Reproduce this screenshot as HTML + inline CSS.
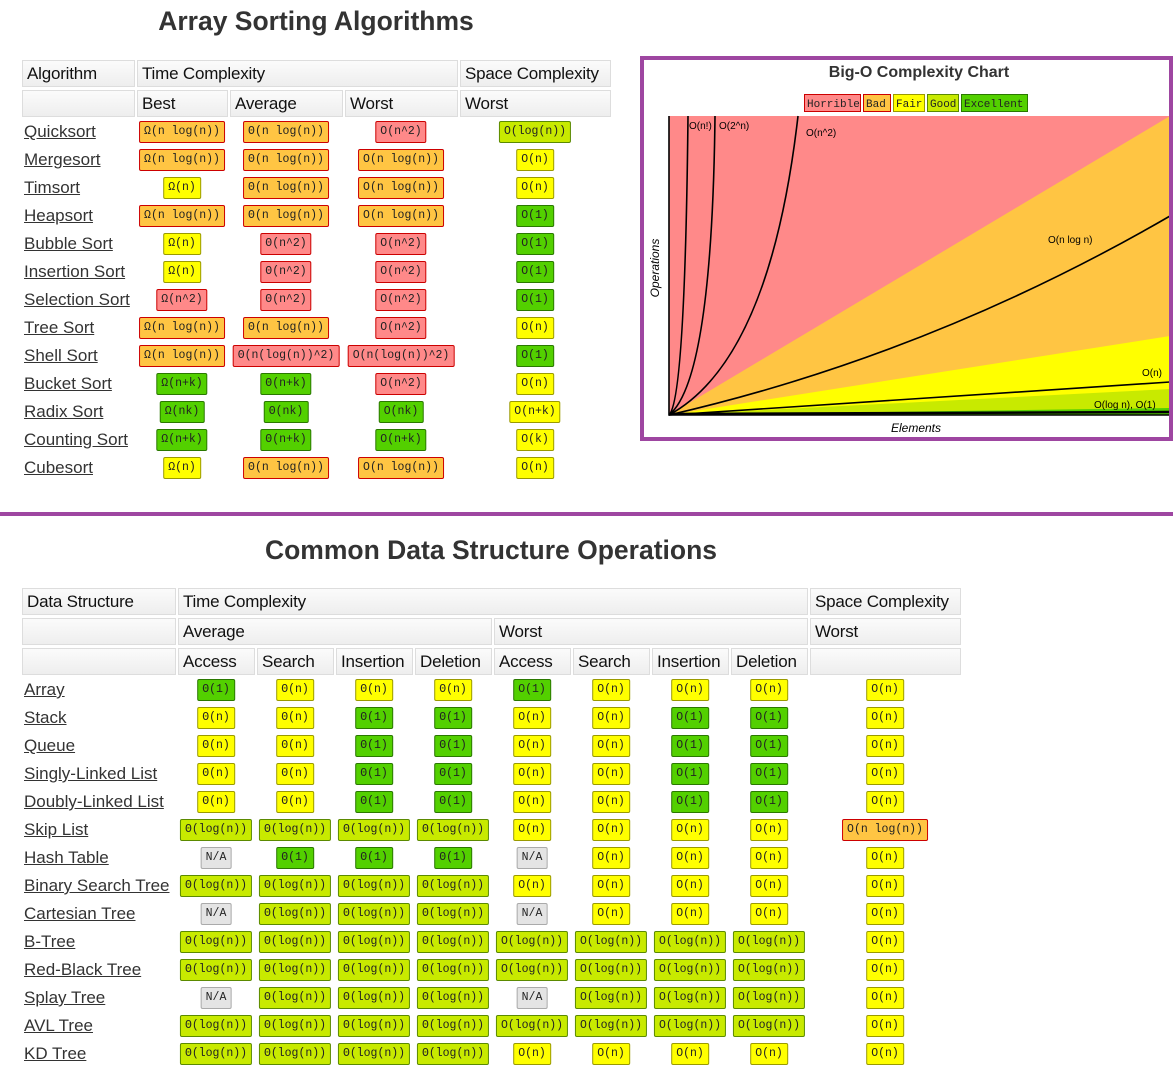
<!DOCTYPE html>
<html><head><meta charset="utf-8"><style>
body{margin:0;width:1173px;height:1084px;position:relative;background:#fff;font-family:"Liberation Sans",Arial,sans-serif;overflow:hidden}
.h{position:absolute;box-sizing:border-box;height:27px;border:1px solid #ddd;background:linear-gradient(#fbfbfb,#eee);font-size:17px;color:#111;padding:2px 4px;line-height:22px;white-space:nowrap;overflow:hidden;letter-spacing:-0.2px}
a{position:absolute;font-size:17px;color:#333;text-decoration:underline;transform:translateY(-50%);line-height:20px;white-space:nowrap}
b{position:absolute;font-weight:normal;font-family:"Liberation Mono",monospace;font-size:11.5px;height:22px;line-height:20px;box-sizing:border-box;padding:0 4px;border:1px solid;border-radius:2px;transform:translate(-50%,-50%);white-space:nowrap;color:#222}
.r{background:#ff8989;border-color:#c00}
.o{background:#ffc543;border-color:#c00}
.y{background:#ff0;border-color:#9a9a00}
.l{background:#c8ea00;border-color:#5b8a00}
.g{background:#53d000;border-color:#2a7800}
.n{background:#e4e4e4;border-color:#aaa}
.t{position:absolute;font-weight:bold;font-size:26.5px;color:#333;transform:translateX(-50%);white-space:nowrap}
</style></head><body>
<div class="t" style="left:316px;top:6px">Array Sorting Algorithms</div>
<div class="h" style="left:22px;top:60px;width:113px">Algorithm</div>
<div class="h" style="left:137px;top:60px;width:321px">Time Complexity</div>
<div class="h" style="left:460px;top:60px;width:151px">Space Complexity</div>
<div class="h" style="left:22px;top:90px;width:113px"></div>
<div class="h" style="left:137px;top:90px;width:91px">Best</div>
<div class="h" style="left:230px;top:90px;width:113px">Average</div>
<div class="h" style="left:345px;top:90px;width:113px">Worst</div>
<div class="h" style="left:460px;top:90px;width:151px">Worst</div>

<a style="left:24px;top:132px">Quicksort</a><b class="o" style="left:182px;top:132px">Ω(n log(n))</b><b class="o" style="left:286px;top:132px">Θ(n log(n))</b><b class="r" style="left:401px;top:132px">O(n^2)</b><b class="l" style="left:535px;top:132px">O(log(n))</b>
<a style="left:24px;top:160px">Mergesort</a><b class="o" style="left:182px;top:160px">Ω(n log(n))</b><b class="o" style="left:286px;top:160px">Θ(n log(n))</b><b class="o" style="left:401px;top:160px">O(n log(n))</b><b class="y" style="left:535px;top:160px">O(n)</b>
<a style="left:24px;top:188px">Timsort</a><b class="y" style="left:182px;top:188px">Ω(n)</b><b class="o" style="left:286px;top:188px">Θ(n log(n))</b><b class="o" style="left:401px;top:188px">O(n log(n))</b><b class="y" style="left:535px;top:188px">O(n)</b>
<a style="left:24px;top:216px">Heapsort</a><b class="o" style="left:182px;top:216px">Ω(n log(n))</b><b class="o" style="left:286px;top:216px">Θ(n log(n))</b><b class="o" style="left:401px;top:216px">O(n log(n))</b><b class="g" style="left:535px;top:216px">O(1)</b>
<a style="left:24px;top:244px">Bubble Sort</a><b class="y" style="left:182px;top:244px">Ω(n)</b><b class="r" style="left:286px;top:244px">Θ(n^2)</b><b class="r" style="left:401px;top:244px">O(n^2)</b><b class="g" style="left:535px;top:244px">O(1)</b>
<a style="left:24px;top:272px">Insertion Sort</a><b class="y" style="left:182px;top:272px">Ω(n)</b><b class="r" style="left:286px;top:272px">Θ(n^2)</b><b class="r" style="left:401px;top:272px">O(n^2)</b><b class="g" style="left:535px;top:272px">O(1)</b>
<a style="left:24px;top:300px">Selection Sort</a><b class="r" style="left:182px;top:300px">Ω(n^2)</b><b class="r" style="left:286px;top:300px">Θ(n^2)</b><b class="r" style="left:401px;top:300px">O(n^2)</b><b class="g" style="left:535px;top:300px">O(1)</b>
<a style="left:24px;top:328px">Tree Sort</a><b class="o" style="left:182px;top:328px">Ω(n log(n))</b><b class="o" style="left:286px;top:328px">Θ(n log(n))</b><b class="r" style="left:401px;top:328px">O(n^2)</b><b class="y" style="left:535px;top:328px">O(n)</b>
<a style="left:24px;top:356px">Shell Sort</a><b class="o" style="left:182px;top:356px">Ω(n log(n))</b><b class="r" style="left:286px;top:356px">Θ(n(log(n))^2)</b><b class="r" style="left:401px;top:356px">O(n(log(n))^2)</b><b class="g" style="left:535px;top:356px">O(1)</b>
<a style="left:24px;top:384px">Bucket Sort</a><b class="g" style="left:182px;top:384px">Ω(n+k)</b><b class="g" style="left:286px;top:384px">Θ(n+k)</b><b class="r" style="left:401px;top:384px">O(n^2)</b><b class="y" style="left:535px;top:384px">O(n)</b>
<a style="left:24px;top:412px">Radix Sort</a><b class="g" style="left:182px;top:412px">Ω(nk)</b><b class="g" style="left:286px;top:412px">Θ(nk)</b><b class="g" style="left:401px;top:412px">O(nk)</b><b class="y" style="left:535px;top:412px">O(n+k)</b>
<a style="left:24px;top:440px">Counting Sort</a><b class="g" style="left:182px;top:440px">Ω(n+k)</b><b class="g" style="left:286px;top:440px">Θ(n+k)</b><b class="g" style="left:401px;top:440px">O(n+k)</b><b class="y" style="left:535px;top:440px">O(k)</b>
<a style="left:24px;top:468px">Cubesort</a><b class="y" style="left:182px;top:468px">Ω(n)</b><b class="o" style="left:286px;top:468px">Θ(n log(n))</b><b class="o" style="left:401px;top:468px">O(n log(n))</b><b class="y" style="left:535px;top:468px">O(n)</b>

<!-- chart -->
<div style="position:absolute;left:640px;top:56px;width:533px;height:385px;box-sizing:border-box;border:4px solid #9e46a1;border-right:none;background:#fff"></div>
<svg style="position:absolute;left:0;top:0" width="1173" height="1084">
<text x="919" y="77" text-anchor="middle" font-family="Liberation Sans" font-weight="bold" font-size="16" fill="#333">Big-O Complexity Chart</text>
<g font-family="Liberation Mono" font-size="11" fill="#222">
<rect x="804.5" y="94.5" width="56" height="17" fill="#ff8989" stroke="#c00"/><text x="807" y="107">Horrible</text>
<rect x="863.5" y="94.5" width="27" height="17" fill="#ffc543" stroke="#c00"/><text x="866" y="107">Bad</text>
<rect x="893.5" y="94.5" width="31" height="17" fill="#ff0" stroke="#9a9a00"/><text x="896" y="107">Fair</text>
<rect x="927.5" y="94.5" width="31" height="17" fill="#c8ea00" stroke="#5b8a00"/><text x="930" y="107">Good</text>
<rect x="961.5" y="94.5" width="66" height="17" fill="#53d000" stroke="#2a7800"/><text x="964" y="107">Excellent</text>
</g>
<rect x="669" y="116" width="501" height="299" fill="#ff8989"/>
<polygon points="669,415 1170,116 1170,415" fill="#ffc543"/>
<polygon points="669,415 1170,336 1170,415" fill="#ff0"/>
<polygon points="669,415 1170,389 1170,415" fill="#c8ea00"/>
<polygon points="669,415 1170,408 1170,415" fill="#53d000"/>
<g fill="none" stroke="#000" stroke-width="1.6">
<path d="M669,116 L669,415 L1170,415"/>
<path d="M669,415 Q685,400 688,116"/>
<path d="M669,415 Q712,380 715,116"/>
<path d="M669,415 Q770,360 798,116"/>
<path d="M669,415 Q930,355 1170,216"/>
<path d="M669,415 L1170,382"/>
<path d="M669,414 L1170,412" stroke-width="2.5"/>
</g>
<g font-family="Liberation Sans" font-size="10" fill="#000">
<text x="689" y="129">O(n!)</text><text x="719" y="129">O(2^n)</text><text x="806" y="136">O(n^2)</text>
<text x="1048" y="243">O(n log n)</text><text x="1142" y="376">O(n)</text><text x="1094" y="408">O(log n), O(1)</text>
</g>
<text x="916" y="432" text-anchor="middle" font-family="Liberation Sans" font-style="italic" font-size="12">Elements</text>
<text transform="translate(659,268) rotate(-90)" text-anchor="middle" font-family="Liberation Sans" font-style="italic" font-size="12">Operations</text>
</svg>
<div style="position:absolute;left:1169px;top:56px;width:4px;height:385px;background:#9e46a1"></div>

<div style="position:absolute;left:0;top:512px;width:1173px;height:4px;background:#9e46a1"></div>
<div class="t" style="left:491px;top:535px">Common Data Structure Operations</div>
<div class="h" style="left:22px;top:588px;width:154px">Data Structure</div>
<div class="h" style="left:178px;top:588px;width:630px">Time Complexity</div>
<div class="h" style="left:810px;top:588px;width:151px">Space Complexity</div>
<div class="h" style="left:22px;top:618px;width:154px"></div>
<div class="h" style="left:178px;top:618px;width:314px">Average</div>
<div class="h" style="left:494px;top:618px;width:314px">Worst</div>
<div class="h" style="left:810px;top:618px;width:151px">Worst</div>
<div class="h" style="left:22px;top:648px;width:154px"></div>
<div class="h" style="left:178px;top:648px;width:77px">Access</div>
<div class="h" style="left:257px;top:648px;width:77px">Search</div>
<div class="h" style="left:336px;top:648px;width:77px">Insertion</div>
<div class="h" style="left:415px;top:648px;width:77px">Deletion</div>
<div class="h" style="left:494px;top:648px;width:77px">Access</div>
<div class="h" style="left:573px;top:648px;width:77px">Search</div>
<div class="h" style="left:652px;top:648px;width:77px">Insertion</div>
<div class="h" style="left:731px;top:648px;width:77px">Deletion</div>
<div class="h" style="left:810px;top:648px;width:151px"></div>

<a style="left:24px;top:690px">Array</a><b class="g" style="left:216px;top:690px">Θ(1)</b><b class="y" style="left:295px;top:690px">Θ(n)</b><b class="y" style="left:374px;top:690px">Θ(n)</b><b class="y" style="left:453px;top:690px">Θ(n)</b><b class="g" style="left:532px;top:690px">O(1)</b><b class="y" style="left:611px;top:690px">O(n)</b><b class="y" style="left:690px;top:690px">O(n)</b><b class="y" style="left:769px;top:690px">O(n)</b><b class="y" style="left:885px;top:690px">O(n)</b>
<a style="left:24px;top:718px">Stack</a><b class="y" style="left:216px;top:718px">Θ(n)</b><b class="y" style="left:295px;top:718px">Θ(n)</b><b class="g" style="left:374px;top:718px">Θ(1)</b><b class="g" style="left:453px;top:718px">Θ(1)</b><b class="y" style="left:532px;top:718px">O(n)</b><b class="y" style="left:611px;top:718px">O(n)</b><b class="g" style="left:690px;top:718px">O(1)</b><b class="g" style="left:769px;top:718px">O(1)</b><b class="y" style="left:885px;top:718px">O(n)</b>
<a style="left:24px;top:746px">Queue</a><b class="y" style="left:216px;top:746px">Θ(n)</b><b class="y" style="left:295px;top:746px">Θ(n)</b><b class="g" style="left:374px;top:746px">Θ(1)</b><b class="g" style="left:453px;top:746px">Θ(1)</b><b class="y" style="left:532px;top:746px">O(n)</b><b class="y" style="left:611px;top:746px">O(n)</b><b class="g" style="left:690px;top:746px">O(1)</b><b class="g" style="left:769px;top:746px">O(1)</b><b class="y" style="left:885px;top:746px">O(n)</b>
<a style="left:24px;top:774px">Singly-Linked List</a><b class="y" style="left:216px;top:774px">Θ(n)</b><b class="y" style="left:295px;top:774px">Θ(n)</b><b class="g" style="left:374px;top:774px">Θ(1)</b><b class="g" style="left:453px;top:774px">Θ(1)</b><b class="y" style="left:532px;top:774px">O(n)</b><b class="y" style="left:611px;top:774px">O(n)</b><b class="g" style="left:690px;top:774px">O(1)</b><b class="g" style="left:769px;top:774px">O(1)</b><b class="y" style="left:885px;top:774px">O(n)</b>
<a style="left:24px;top:802px">Doubly-Linked List</a><b class="y" style="left:216px;top:802px">Θ(n)</b><b class="y" style="left:295px;top:802px">Θ(n)</b><b class="g" style="left:374px;top:802px">Θ(1)</b><b class="g" style="left:453px;top:802px">Θ(1)</b><b class="y" style="left:532px;top:802px">O(n)</b><b class="y" style="left:611px;top:802px">O(n)</b><b class="g" style="left:690px;top:802px">O(1)</b><b class="g" style="left:769px;top:802px">O(1)</b><b class="y" style="left:885px;top:802px">O(n)</b>
<a style="left:24px;top:830px">Skip List</a><b class="l" style="left:216px;top:830px">Θ(log(n))</b><b class="l" style="left:295px;top:830px">Θ(log(n))</b><b class="l" style="left:374px;top:830px">Θ(log(n))</b><b class="l" style="left:453px;top:830px">Θ(log(n))</b><b class="y" style="left:532px;top:830px">O(n)</b><b class="y" style="left:611px;top:830px">O(n)</b><b class="y" style="left:690px;top:830px">O(n)</b><b class="y" style="left:769px;top:830px">O(n)</b><b class="o" style="left:885px;top:830px">O(n log(n))</b>
<a style="left:24px;top:858px">Hash Table</a><b class="n" style="left:216px;top:858px">N/A</b><b class="g" style="left:295px;top:858px">Θ(1)</b><b class="g" style="left:374px;top:858px">Θ(1)</b><b class="g" style="left:453px;top:858px">Θ(1)</b><b class="n" style="left:532px;top:858px">N/A</b><b class="y" style="left:611px;top:858px">O(n)</b><b class="y" style="left:690px;top:858px">O(n)</b><b class="y" style="left:769px;top:858px">O(n)</b><b class="y" style="left:885px;top:858px">O(n)</b>
<a style="left:24px;top:886px">Binary Search Tree</a><b class="l" style="left:216px;top:886px">Θ(log(n))</b><b class="l" style="left:295px;top:886px">Θ(log(n))</b><b class="l" style="left:374px;top:886px">Θ(log(n))</b><b class="l" style="left:453px;top:886px">Θ(log(n))</b><b class="y" style="left:532px;top:886px">O(n)</b><b class="y" style="left:611px;top:886px">O(n)</b><b class="y" style="left:690px;top:886px">O(n)</b><b class="y" style="left:769px;top:886px">O(n)</b><b class="y" style="left:885px;top:886px">O(n)</b>
<a style="left:24px;top:914px">Cartesian Tree</a><b class="n" style="left:216px;top:914px">N/A</b><b class="l" style="left:295px;top:914px">Θ(log(n))</b><b class="l" style="left:374px;top:914px">Θ(log(n))</b><b class="l" style="left:453px;top:914px">Θ(log(n))</b><b class="n" style="left:532px;top:914px">N/A</b><b class="y" style="left:611px;top:914px">O(n)</b><b class="y" style="left:690px;top:914px">O(n)</b><b class="y" style="left:769px;top:914px">O(n)</b><b class="y" style="left:885px;top:914px">O(n)</b>
<a style="left:24px;top:942px">B-Tree</a><b class="l" style="left:216px;top:942px">Θ(log(n))</b><b class="l" style="left:295px;top:942px">Θ(log(n))</b><b class="l" style="left:374px;top:942px">Θ(log(n))</b><b class="l" style="left:453px;top:942px">Θ(log(n))</b><b class="l" style="left:532px;top:942px">O(log(n))</b><b class="l" style="left:611px;top:942px">O(log(n))</b><b class="l" style="left:690px;top:942px">O(log(n))</b><b class="l" style="left:769px;top:942px">O(log(n))</b><b class="y" style="left:885px;top:942px">O(n)</b>
<a style="left:24px;top:970px">Red-Black Tree</a><b class="l" style="left:216px;top:970px">Θ(log(n))</b><b class="l" style="left:295px;top:970px">Θ(log(n))</b><b class="l" style="left:374px;top:970px">Θ(log(n))</b><b class="l" style="left:453px;top:970px">Θ(log(n))</b><b class="l" style="left:532px;top:970px">O(log(n))</b><b class="l" style="left:611px;top:970px">O(log(n))</b><b class="l" style="left:690px;top:970px">O(log(n))</b><b class="l" style="left:769px;top:970px">O(log(n))</b><b class="y" style="left:885px;top:970px">O(n)</b>
<a style="left:24px;top:998px">Splay Tree</a><b class="n" style="left:216px;top:998px">N/A</b><b class="l" style="left:295px;top:998px">Θ(log(n))</b><b class="l" style="left:374px;top:998px">Θ(log(n))</b><b class="l" style="left:453px;top:998px">Θ(log(n))</b><b class="n" style="left:532px;top:998px">N/A</b><b class="l" style="left:611px;top:998px">O(log(n))</b><b class="l" style="left:690px;top:998px">O(log(n))</b><b class="l" style="left:769px;top:998px">O(log(n))</b><b class="y" style="left:885px;top:998px">O(n)</b>
<a style="left:24px;top:1026px">AVL Tree</a><b class="l" style="left:216px;top:1026px">Θ(log(n))</b><b class="l" style="left:295px;top:1026px">Θ(log(n))</b><b class="l" style="left:374px;top:1026px">Θ(log(n))</b><b class="l" style="left:453px;top:1026px">Θ(log(n))</b><b class="l" style="left:532px;top:1026px">O(log(n))</b><b class="l" style="left:611px;top:1026px">O(log(n))</b><b class="l" style="left:690px;top:1026px">O(log(n))</b><b class="l" style="left:769px;top:1026px">O(log(n))</b><b class="y" style="left:885px;top:1026px">O(n)</b>
<a style="left:24px;top:1054px">KD Tree</a><b class="l" style="left:216px;top:1054px">Θ(log(n))</b><b class="l" style="left:295px;top:1054px">Θ(log(n))</b><b class="l" style="left:374px;top:1054px">Θ(log(n))</b><b class="l" style="left:453px;top:1054px">Θ(log(n))</b><b class="y" style="left:532px;top:1054px">O(n)</b><b class="y" style="left:611px;top:1054px">O(n)</b><b class="y" style="left:690px;top:1054px">O(n)</b><b class="y" style="left:769px;top:1054px">O(n)</b><b class="y" style="left:885px;top:1054px">O(n)</b>
</body></html>
